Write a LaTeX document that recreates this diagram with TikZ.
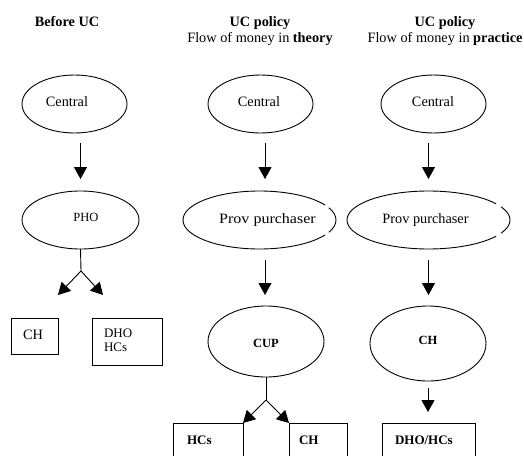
\documentclass[tikz,border=0pt]{standalone}
\usepackage{fontspec}
\usepackage{graphicx}
\setmainfont{Liberation Serif}
\usetikzlibrary{arrows.meta,shapes.geometric}
\begin{document}
\begin{tikzpicture}[x=1pt,y=-1pt,
  every node/.style={inner sep=0pt, outer sep=0pt},
  big/.style={font=\fontsize{14.3}{16}\selectfont},
  mid/.style={font=\fontsize{13}{15}\selectfont},
  sml/.style={font=\fontsize{12.5}{14}\selectfont},
  ell/.style={ellipse, draw, line width=0.9pt},
  ghost/.style={ellipse},
  boxn/.style={draw, line width=0.9pt, anchor=north west},
  arr/.style={line width=0.9pt, -{Triangle[width=13pt,length=12pt]}},
  ln/.style={line width=0.9pt}
]
\useasboundingbox (0,0) rectangle (524,455);
\clip (0,0) rectangle (524,455);

% titles
\node[big, anchor=base] (t1) at (67,26) {\textbf{Before UC}};
\node[big, anchor=base] (t2a) at (260,26) {\textbf{UC policy}};
\node[big, anchor=base] (t2b) at (260,42) {Flow of money in \textbf{theory}};
\node[big, anchor=base] (t3a) at (445,26) {\textbf{UC policy}};
\node[big, anchor=base] (t3b) at (445,42) {Flow of money in \textbf{practice}};

% column 1
\node[ell, minimum width=105pt, minimum height=58pt] (c1) at (74.5,104) {};
\node[big, anchor=base] (c1t) at (67,106) {Central};
\node[ell, minimum width=117pt, minimum height=58pt] (p1) at (80.5,220) {};
\node[sml, anchor=base] (p1t) at (86,221) {PHO};
\draw[arr, shorten <=10pt, shorten >=12pt] (p1.north |- c1.south) -- (p1.north);
\coordinate (j1) at (81,271);
\coordinate (e1l) at (58,295);
\coordinate (e1r) at (103,295);
\draw[ln] (p1.south) -- (j1);
\draw[arr] (j1) -- (e1l);
\draw[arr] (j1) -- (e1r);
\node[boxn, minimum width=47pt, minimum height=36pt] (b1) at (11,318) {};
\node[big, anchor=base] (b1t) at (33,339) {CH};
\node[boxn, minimum width=70pt, minimum height=47pt] (b2) at (92,318) {};
\node[mid, anchor=base west] (b2t1) at (104,337) {DHO};
\node[mid, anchor=base west] (b2t2) at (104,351) {HCs};

% column 2
\node[ell, minimum width=105pt, minimum height=58pt] (c2) at (260.5,104) {};
\node[big, anchor=base] (c2t) at (259,106) {Central};
\node[ghost, minimum width=153pt, minimum height=58pt] (pp2) at (259.5,220) {};
\draw[ln] ([shift={(31:76.5pt and 29pt)}]pp2.center) arc[start angle=31, end angle=329, x radius=76.5pt, y radius=29pt];
\draw[ln] ([shift={(-25:76.5pt and 29pt)}]pp2.center) arc[start angle=-25, end angle=25, x radius=76.5pt, y radius=29pt];
\node[big, anchor=base] (pp2t) at (267.5,223) {\scalebox{1.12}[1]{Prov purchaser}};
\draw[arr, shorten <=10pt, shorten >=12pt] ([xshift=4.5pt]c2.south) -- ([xshift=4.5pt]c2.south |- pp2.north);
\node[ell, minimum width=116pt, minimum height=71pt] (cup) at (266,341.5) {};
\node[sml, anchor=base] (cupt) at (266,347) {\textbf{CUP}};
\draw[arr, shorten <=11pt, shorten >=11pt] ([xshift=5.5pt]pp2.south) -- ([xshift=5.5pt]pp2.south |- cup.north);
\coordinate (j2) at (266,400);
\node[boxn, minimum width=70pt, minimum height=60pt] (b3) at (173,423) {};
\node[mid, anchor=base west] (b3t) at (187,444) {\textbf{HCs}};
\node[boxn, minimum width=58pt, minimum height=60pt] (b4) at (289,423) {};
\node[mid, anchor=base west] (b4t) at (299,444) {\textbf{CH}};
\draw[ln] (cup.south) -- (j2);
\draw[arr] (j2) -- (b3.north east);
\draw[arr] (j2) -- (b4.north west);

% column 3
\node[ell, minimum width=105pt, minimum height=58pt] (c3) at (433.5,104) {};
\node[big, anchor=base] (c3t) at (433,106) {Central};
\node[ghost, minimum width=163pt, minimum height=58pt] (pp3) at (428.5,220) {};
\draw[ln] ([shift={(34:81.5pt and 29pt)}]pp3.center) arc[start angle=34, end angle=326, x radius=81.5pt, y radius=29pt];
\draw[ln] ([shift={(-27:81.5pt and 29pt)}]pp3.center) arc[start angle=-27, end angle=27, x radius=81.5pt, y radius=29pt];
\node[big, anchor=base] (pp3t) at (425.5,223) {Prov purchaser};
\draw[arr, shorten <=10pt, shorten >=12pt] (pp3.north |- c3.south) -- (pp3.north);
\node[ell, minimum width=116pt, minimum height=75pt] (ch3) at (428,343.5) {};
\node[sml, anchor=base] (ch3t) at (428,344) {\textbf{CH}};
\draw[arr, shorten <=11pt, shorten >=11pt] (pp3.south) -- (pp3.south |- ch3.north);
\node[boxn, minimum width=93pt, minimum height=60pt] (b5) at (382,423) {};
\node[mid, anchor=base west] (b5t) at (395,444) {\textbf{DHO/HCs}};
\draw[arr, shorten <=7pt, shorten >=11pt] (ch3.south) -- (ch3.south |- b5.north);
\end{tikzpicture}
\end{document}
